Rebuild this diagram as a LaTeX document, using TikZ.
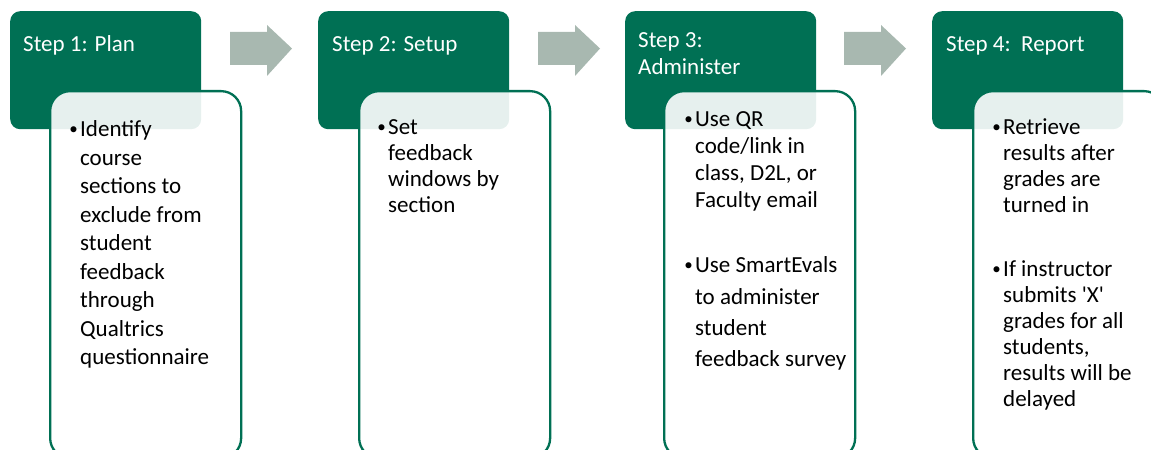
\documentclass[tikz,border=0pt]{standalone}
\usepackage{fontspec}
\setmainfont{Carlito}
\definecolor{stepgreen}{RGB}{0,112,84}
\definecolor{arrowgray}{RGB}{168,184,176}
\begin{document}
\begin{tikzpicture}[x=1bp,y=-1bp,
  header/.style={fill=stepgreen, rounded corners=10bp, inner sep=0, minimum width=191bp, minimum height=118bp, anchor=north west},
  card/.style={draw=stepgreen, line width=2.3bp, fill=white, fill opacity=0.9, rounded corners=20bp, inner sep=0, minimum width=191bp, minimum height=367bp, anchor=north west},
  flowarrow/.style={fill=arrowgray},
  title/.style={text=white, anchor=base west, inner sep=0, font=\fontsize{23bp}{27bp}\selectfont},
  body/.style={anchor=base west, inner sep=0, text=black, font=\fontsize{23bp}{28bp}\selectfont},
  bulletmark/.style={anchor=base east, inner sep=0, text=black, font=\fontsize{17bp}{20bp}\selectfont}]
\useasboundingbox (0,0) rectangle (1151,450);
\clip (0,0) rectangle (1151,450);

% headers
\node[header] (h1) at (10,11) {};
\node[header] (h2) at (318,11) {};
\node[header] (h3) at (625,11) {};
\node[header] (h4) at (932,11) {};

% arrows
\foreach \ax [count=\k] in {230,538,844} {
  \coordinate (a\k) at (\ax,48.5);
  \fill[flowarrow] (a\k) ++(0,-16.5) -- ++(37,0) -- ++(0,-7) -- ++(25,23.5)
     -- ++(-25,27.5) -- ++(0,-11) -- ++(-37,0) -- cycle;
}

% cards
\node[card] (c1) at (49,90) {};
\node[card] (c2) at (358,90) {};
\node[card] (c3) at (663,90) {};
\node[card] (c4) at (972,90) {};

% titles
\node[title] (t1) at (23,52) {Step 1: Plan};
\node[title] (t2) at (332,52) {Step 2: Setup};
\node[title] (t3a) at (638,48) {Step 3:};
\node[title] (t3b) at (638,75) {Administer};
\node[title] (t4) at (946,52) {Step 4:\ \ Report};

% box 1
\node[bulletmark] (m1) at (78,134.5) {•};
\foreach \t [count=\i from 0] in {Identify, course, sections to, exclude from, student, feedback, through, Qualtrics, questionnaire}
  \node[body] (p1-\i) at (80,{137+28.5*\i}) {\t};

% box 2
\node[bulletmark] (m2) at (386,132.5) {•};
\foreach \t [count=\i from 0] in {Set, feedback, windows by, section}
  \node[body] (p2-\i) at (388,{135+26*\i}) {\t};

% box 3
\node[bulletmark] (m3a) at (693,124.5) {•};
\foreach \t [count=\i from 0] in {Use QR, code/link in, {class, D2L, or}, Faculty email}
  \node[body] (p3a-\i) at (695,{127+26.7*\i}) {\t};
\node[bulletmark] (m3b) at (693,270.5) {•};
\foreach \t [count=\i from 0] in {Use SmartEvals, to administer, student, feedback survey}
  \node[body] (p3b-\i) at (695,{273+31.3*\i}) {\t};

% box 4
\node[bulletmark] (m4a) at (1001,132.5) {•};
\foreach \t [count=\i from 0] in {Retrieve, results after, grades are, turned in}
  \node[body] (p4a-\i) at (1003,{135+26*\i}) {\t};
\node[bulletmark] (m4b) at (1001,274.5) {•};
\foreach \t [count=\i from 0] in {If instructor, submits \textquotesingle X\textquotesingle, grades for all, {students,}, results will be, delayed}
  \node[body] (p4b-\i) at (1003,{277+26*\i}) {\t};
\end{tikzpicture}
\end{document}
